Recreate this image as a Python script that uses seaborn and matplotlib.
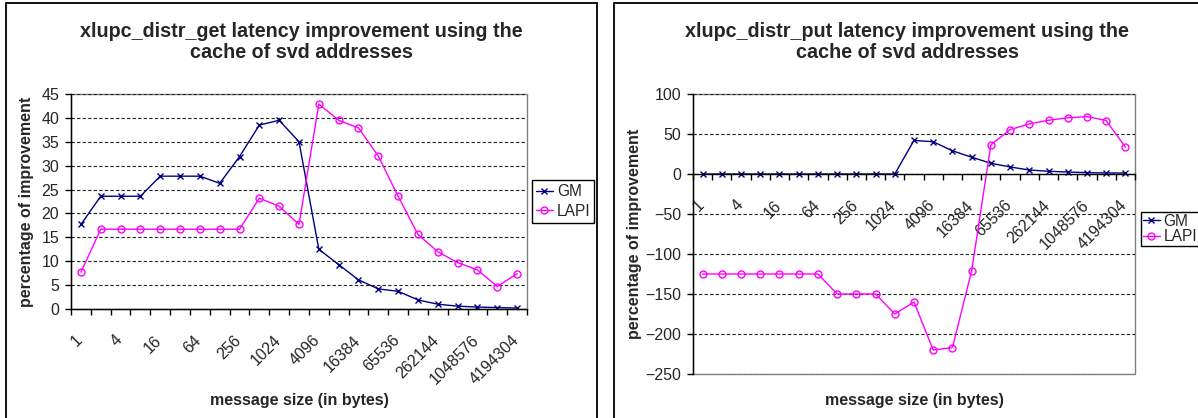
import numpy as np
import pandas as pd
import matplotlib
matplotlib.use('Agg')
import matplotlib.pyplot as plt
import matplotlib.transforms as mtransforms
import seaborn as sns
from matplotlib.patches import Rectangle
from matplotlib.lines import Line2D

# message sizes (bytes), one category per point
sizes = [1, 2, 4, 8, 16, 32, 64, 128, 256, 512, 1024, 2048, 4096, 8192,
         16384, 32768, 65536, 131072, 262144, 524288, 1048576, 2097152, 4194304]
tick_labels = ['1', '4', '16', '64', '256', '1024', '4096', '16384', '65536',
               '262144', '1048576', '4194304']

# xlupc_distr_get
get_gm = [17.7, 23.6, 23.6, 23.6, 27.8, 27.8, 27.8, 26.3, 31.9, 38.5, 39.5, 35.0,
          12.5, 9.3, 6.1, 4.2, 3.7, 1.9, 1.0, 0.6, 0.4, 0.3, 0.2]
get_lapi = [7.7, 16.7, 16.7, 16.7, 16.7, 16.7, 16.7, 16.7, 16.7, 23.2, 21.5, 17.7,
            42.9, 39.5, 37.9, 32.0, 23.6, 15.6, 12.0, 9.7, 8.2, 4.7, 7.4]

# xlupc_distr_put
put_gm = [0, 0, 0, 0, 0, 0, 0, 0, 0, 0, 0, 42.0, 40.3, 29.0, 21.0, 13.4, 8.8,
          5.0, 3.4, 2.5, 1.7, 1.3, 1.2]
put_lapi = [-125, -125, -125, -125, -125, -125, -125, -150, -150, -150, -175, -160,
            -220, -217, -121, 36.5, 55.5, 62.6, 67.2, 70.2, 71.8, 66.8, 33.6]

series_names = ['GM', 'LAPI']
colors = {'GM': '#000080', 'LAPI': '#FF00FF'}
markers = {'GM': 'x', 'LAPI': 'o'}

sns.set_style('white')
plt.rcParams['font.family'] = ['Liberation Sans', 'DejaVu Sans']

W, H = 1198, 418
fig = plt.figure(figsize=(W / 100, H / 100), dpi=100)


def px_axes(x0, y0, x1, y1):
    # pixel box (top-left origin) -> figure axes
    return fig.add_axes([x0 / W, 1 - y1 / H, (x1 - x0) / W, (y1 - y0) / H])


def make_df(gm, lapi):
    n = len(sizes)
    return pd.DataFrame({
        'idx': list(range(n)) * 2,
        'value': list(gm) + list(lapi),
        'series': ['GM'] * n + ['LAPI'] * n,
    })


def draw_chart(ax, df, ylim, ystep, axis_at_zero):
    for name in series_names:
        sub = df[df['series'] == name]
        sns.lineplot(data=sub, x='idx', y='value', color=colors[name],
                     marker=markers[name], markersize=5, mec=colors[name],
                     mew=1.0, mfc='none' if name == 'LAPI' else colors[name],
                     sort=False, legend=False, ax=ax, linewidth=1.0)
    for s in ['top', 'right']:
        ax.spines[s].set_visible(False)
    ax.spines['left'].set_color('black')
    ax.spines['left'].set_linewidth(1.0)
    ax.spines['bottom'].set_color('black')
    ax.spines['bottom'].set_linewidth(1.0)
    if axis_at_zero:
        ax.spines['bottom'].set_position(('data', 0))

    n = len(sizes)
    ax.set_xlim(-0.5, n - 0.5)
    ax.set_ylim(*ylim)
    ax.set_yticks(np.arange(ylim[0], ylim[1] + 1, ystep))
    ax.yaxis.grid(True, color='#222222', linestyle=(0, (3, 2)), linewidth=0.8)
    ax.set_axisbelow(True)

    ax.set_xticks(list(range(0, n, 2)))
    ax.set_xticklabels(tick_labels, rotation=45, ha='right', va='top',
                       rotation_mode='anchor', fontsize=11.5)
    ax.set_xticks(np.arange(-0.5, n, 1.0), minor=True)
    ax.tick_params(axis='x', which='major', length=0, pad=17)
    ax.tick_params(axis='x', which='minor', length=4, width=1, color='black',
                   direction='out', bottom=True)
    ax.tick_params(axis='y', length=4.5, width=1, color='black', direction='out',
                   left=True, labelsize=11.5, pad=4)
    shift = mtransforms.ScaledTranslation(-6 / 100, 0, fig.dpi_scale_trans)
    for lab in ax.get_xticklabels():
        lab.set_transform(lab.get_transform() + shift)

    # grey plot-area border
    ax.add_patch(Rectangle((0, 0), 1, 1, transform=ax.transAxes, fill=False,
                           edgecolor='#808080', linewidth=1.0, zorder=0.5,
                           clip_on=False))

    ax.set_xlabel('message size (in bytes)', fontsize=11.5, fontweight='bold')
    ax.set_ylabel('percentage of improvement', fontsize=11.5, fontweight='bold')
    ax.xaxis.label.set_va('center')
    ax.yaxis.label.set_va('center')

    handles = [Line2D([], [], color=colors[nm], marker=markers[nm], markersize=5,
                      mfc='none' if nm == 'LAPI' else colors[nm],
                      mec=colors[nm], linewidth=1.0) for nm in series_names]
    return handles


# frames of the two charts
fig.patches.append(Rectangle((6 / W, -0.1), 591 / W, 1.1 - 3 / H,
                             transform=fig.transFigure, fill=False,
                             edgecolor='black', linewidth=1.3))
fig.patches.append(Rectangle((614 / W, -0.1), 1.0, 1.1 - 3 / H,
                             transform=fig.transFigure, fill=False,
                             edgecolor='black', linewidth=1.3))

# left chart
ax1 = px_axes(71, 94, 527, 309)
h = draw_chart(ax1, make_df(get_gm, get_lapi), (0, 45), 5, False)
ax1.xaxis.set_label_coords(0.5, (309 - 400) / 215)
ax1.yaxis.set_label_coords((26.5 - 71) / 456, 0.5)
ax1.legend(h, series_names, loc='center left', bbox_to_anchor=(1.011, 0.5),
           frameon=True, fancybox=False, edgecolor='black', framealpha=1,
           fontsize=11.2, handlelength=1.1, handletextpad=0.25,
           labelspacing=0.3, borderpad=0.25, borderaxespad=0)
fig.text(301.7 / W, 1 - 22 / H,
         'xlupc_distr_get latency improvement using the\ncache of svd addresses',
         ha='center', va='top', fontsize=14.2, fontweight='bold',
         linespacing=1.1)

# right chart
ax2 = px_axes(693, 94, 1135, 374)
h = draw_chart(ax2, make_df(put_gm, put_lapi), (-250, 100), 50, True)
ax2.xaxis.set_label_coords(0.5, (374 - 400) / 280)
ax2.yaxis.set_label_coords((635 - 693) / 442, 0.5)
ax2.legend(h, series_names, loc='center left', bbox_to_anchor=(1.0136, 0.518),
           frameon=True, fancybox=False, edgecolor='black', framealpha=1,
           fontsize=11.2, handlelength=1.1, handletextpad=0.25,
           labelspacing=0.05, borderpad=0.1, borderaxespad=0)
fig.text(907 / W, 1 - 22 / H,
         'xlupc_distr_put latency improvement using the\ncache of svd addresses',
         ha='center', va='top', fontsize=14.2, fontweight='bold',
         linespacing=1.1)

fig.savefig('out.png', dpi=100, facecolor='white')
